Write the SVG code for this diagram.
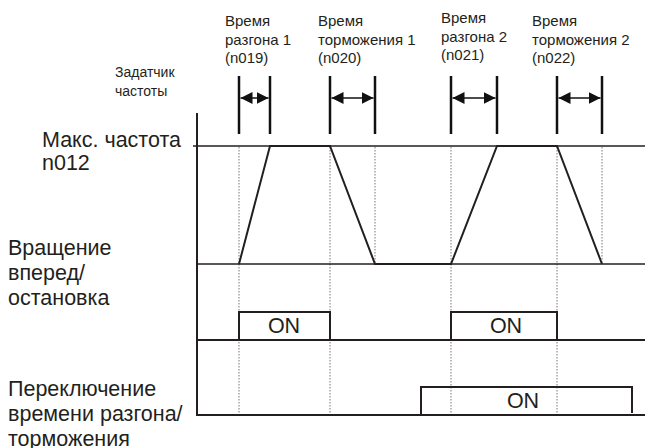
<svg xmlns="http://www.w3.org/2000/svg" width="645" height="448" viewBox="0 0 645 448">
<style>
.t{font-family:"Liberation Sans",Arial,sans-serif;fill:#231f20}
.s{font-size:15px}
.z{font-size:14px}
.b{font-size:21.5px}
.ln{stroke:#231f20;stroke-width:2;fill:none}
.thin{stroke:#231f20;stroke-width:1.3;fill:none}
.dot{stroke:#777;stroke-width:1;stroke-dasharray:1.5 1.5;fill:none}
.bar{stroke:#111;stroke-width:2.5}
.shaft{stroke:#111;stroke-width:1.5}
</style>
<defs>
<marker id="ah" viewBox="0 0 12 12" refX="12" refY="6" markerWidth="12" markerHeight="12" markerUnits="userSpaceOnUse" orient="auto-start-reverse">
<path d="M0,0 L12,6 L0,12 Z" fill="#111"/>
</marker>
</defs>
<rect width="645" height="448" fill="#fff"/>
<g id="labels">
<text class="t z" x="115" y="77">Задатчик</text>
<text class="t z" x="115" y="96">частоты</text>
<text class="t b" x="42" y="147">Макс. частота</text>
<text class="t b" x="42" y="170">n012</text>
<text class="t b" x="8" y="255">Вращение</text>
<text class="t b" x="8" y="280">вперед/</text>
<text class="t b" x="8" y="305">остановка</text>
<text class="t b" x="8" y="396">Переключение</text>
<text class="t b" x="8" y="421">времени разгона/</text>
<text class="t b" x="8" y="446">торможения</text>
</g>
<g id="time-labels">
<text class="t s" x="225" y="26">Время</text>
<text class="t s" x="225" y="45">разгона 1</text>
<text class="t s" x="225" y="63">(n019)</text>
<text class="t s" x="318" y="26">Время</text>
<text class="t s" x="318" y="45">торможения 1</text>
<text class="t s" x="318" y="63">(n020)</text>
<text class="t s" x="441" y="23">Время</text>
<text class="t s" x="441" y="42">разгона 2</text>
<text class="t s" x="441" y="60">(n021)</text>
<text class="t s" x="532" y="26">Время</text>
<text class="t s" x="532" y="45">торможения 2</text>
<text class="t s" x="532" y="63">(n022)</text>
</g>
<g id="connectors">
<line class="dot" x1="239" y1="147" x2="239" y2="414"/>
<line class="dot" x1="330" y1="147" x2="330" y2="414"/>
<line class="dot" x1="375" y1="147" x2="375" y2="263"/>
<line class="dot" x1="451" y1="147" x2="451" y2="414"/>
<line class="dot" x1="557" y1="147" x2="557" y2="414"/>
<line class="dot" x1="602" y1="147" x2="602" y2="263"/>
<line class="ln" x1="197" y1="113" x2="197" y2="416"/>
<line class="thin" x1="193" y1="146" x2="645" y2="146"/>
<line class="thin" x1="197" y1="264" x2="645" y2="264"/>
<line class="ln" x1="197" y1="340" x2="645" y2="340"/>
<line class="ln" x1="197" y1="415" x2="645" y2="415"/>
<polyline class="ln" points="239,264 270,146 330,146 375,264 451,264 497,146 557,146 602,264"/>
<polyline class="ln" points="239,340 239,312 330,312 330,340"/>
<polyline class="ln" points="451,340 451,312 557,312 557,340"/>
<polyline class="ln" points="421,415 421,387 632,387 632,413"/>
<line class="bar" x1="239" y1="76" x2="239" y2="134"/>
<line class="bar" x1="270" y1="76" x2="270" y2="134"/>
<line class="bar" x1="330" y1="76" x2="330" y2="134"/>
<line class="bar" x1="375" y1="76" x2="375" y2="134"/>
<line class="bar" x1="451" y1="76" x2="451" y2="134"/>
<line class="bar" x1="497" y1="76" x2="497" y2="134"/>
<line class="bar" x1="557" y1="76" x2="557" y2="134"/>
<line class="bar" x1="602" y1="76" x2="602" y2="134"/>
<line class="shaft" x1="240.5" y1="98" x2="268.5" y2="98" marker-start="url(#ah)" marker-end="url(#ah)"/>
<line class="shaft" x1="331.5" y1="98" x2="373.5" y2="98" marker-start="url(#ah)" marker-end="url(#ah)"/>
<line class="shaft" x1="452.5" y1="98" x2="495.5" y2="98" marker-start="url(#ah)" marker-end="url(#ah)"/>
<line class="shaft" x1="558.5" y1="98" x2="600.5" y2="98" marker-start="url(#ah)" marker-end="url(#ah)"/>
</g>
<g id="on-labels">
<text class="t b" x="284" y="333" text-anchor="middle">ON</text>
<text class="t b" x="506" y="333" text-anchor="middle">ON</text>
<text class="t b" x="523" y="408" text-anchor="middle">ON</text>
</g>
</svg>
